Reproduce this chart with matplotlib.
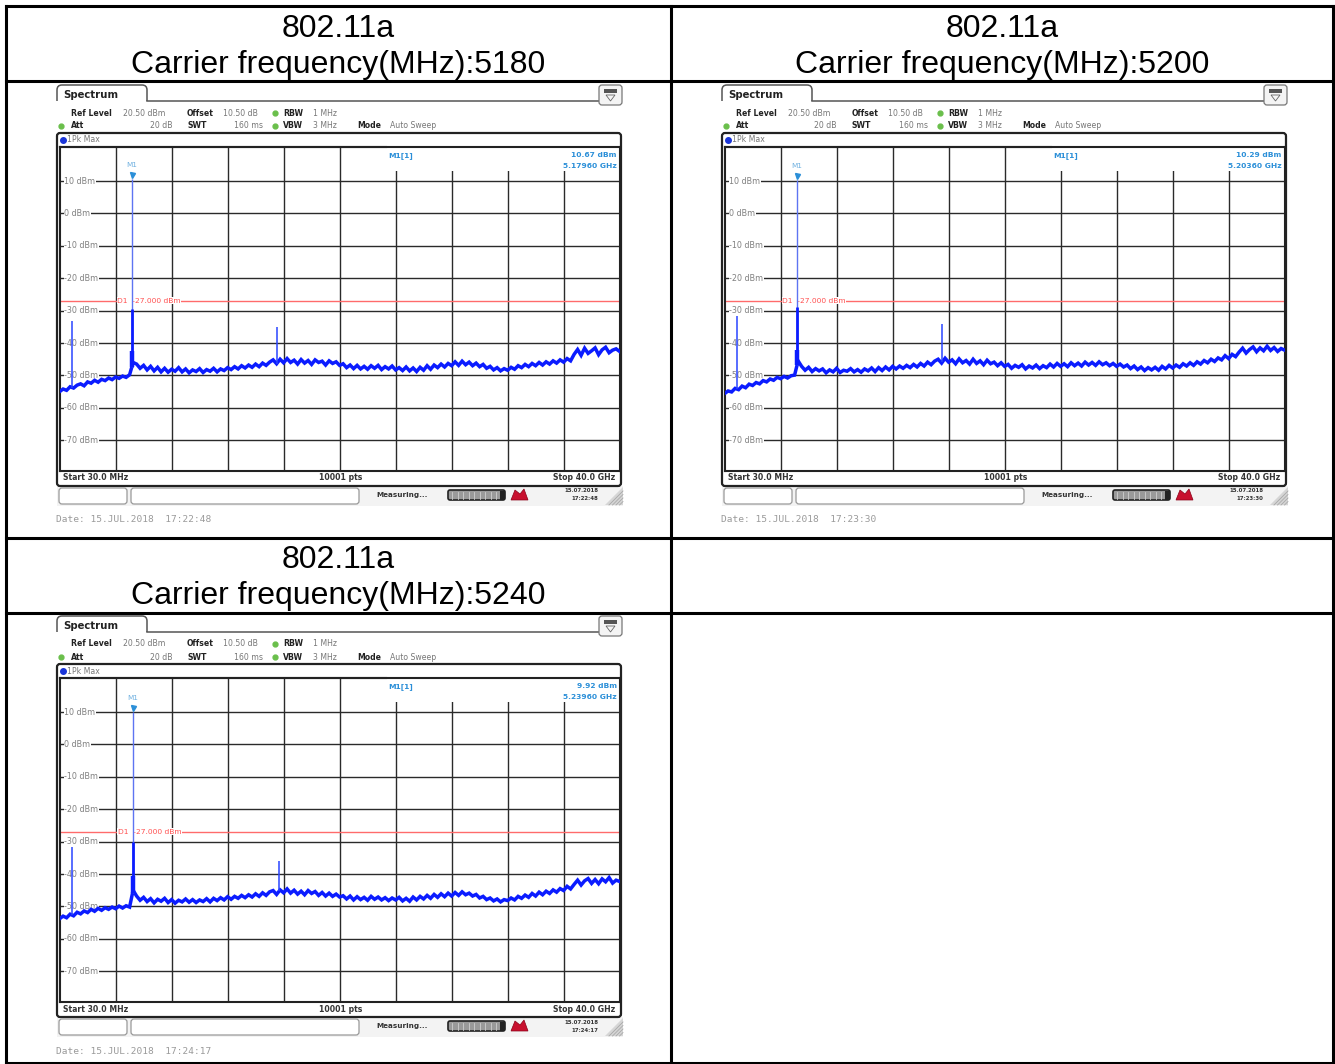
import numpy as np
import matplotlib
matplotlib.use('Agg')
import matplotlib.pyplot as plt
from matplotlib.patches import FancyBboxPatch, Rectangle, Polygon
import matplotlib.transforms as mtransforms

# ---------------- data ----------------
titles_std = ["802.11a", "802.11a", "802.11a"]
carrier_mhz = ["5180", "5200", "5240"]
start_ghz, stop_ghz = 0.03, 40.0
y_ticks = [10, 0, -10, -20, -30, -40, -50, -60, -70]
ref_level = 20.5
display_line = -27.0

marker_level = [10.67, 10.29, 9.92]          # dBm
marker_freq = [5.1796, 5.2036, 5.2396]       # GHz
carrier_body_top = [-29.5, -29.0, -30.0]     # dBm, top of the wide carrier body
carrier_bump_top = [-42.5, -42.0, -40.5]
spur_freq = [[0.94, 15.53], [0.94, 15.58], [0.94, 15.70]]
spur_level = [[-33.2, -35.0], [-31.7, -34.0], [-31.8, -36.0]]
sweep_time = ["17:22:48", "17:23:30", "17:24:17"]

trace1 = [-55.0, -54.2, -54.6, -53.5, -53.9, -53.0, -52.6, -53.2, -52.0, -52.4, -51.5, -52.1, -51.2, -51.6, -50.8, -51.3, -50.5, -50.9, -50.2, -50.6, -49.8,
          -46.0,
          -46.5, -47.8, -46.9, -48.3, -47.2, -48.6, -47.5, -48.9, -47.8, -49.0, -48.1, -48.7, -47.6, -48.9, -48.0, -49.2, -48.3, -48.8, -47.9, -49.1, -48.2, -48.7, -47.8, -48.9, -48.0, -48.5, -47.6,
          -48.2, -47.3, -48.0, -47.0, -47.7, -46.8, -47.5, -46.5, -47.3, -46.2, -46.9, -45.9,
          -45.2, -46.4, -45.0, -46.1, -44.8, -46.0, -45.3, -46.5, -45.1, -46.2, -45.4, -46.6, -45.2, -46.0, -45.6, -46.8, -45.5, -46.3, -45.8, -46.9,
          -46.4, -47.6, -46.8, -47.9, -46.9, -48.0, -47.2, -48.1, -47.0, -47.8, -46.9, -48.2, -47.3, -48.0, -47.1, -48.3,
          -47.6, -48.5, -47.4, -48.6, -47.7, -48.8, -47.5, -48.4, -47.0, -48.1, -46.8, -47.6, -46.5, -47.4, -46.3, -47.0,
          -45.8, -46.9, -45.6, -46.7, -45.9, -47.0, -46.2, -47.3, -46.6, -47.8, -47.2, -48.3, -47.6, -48.6, -47.9, -48.4,
          -47.5, -48.1, -47.0, -47.6, -46.6, -47.3, -46.3, -47.0, -46.0, -46.8, -45.8, -46.5, -45.5, -46.2, -45.2, -45.9, -44.8, -45.5,
          -43.5, -42.0, -43.8, -41.6, -43.2, -42.4, -41.5, -43.6, -42.1, -41.3, -43.0, -42.2, -41.8, -42.6]

trace2 = [-55.6, -54.8, -55.1, -54.0, -54.4, -53.3, -53.8, -52.7, -53.1, -52.2, -52.6, -51.6, -52.0, -51.1, -51.5, -50.6, -51.0, -50.3, -50.8, -50.1, -49.9,
          -45.5,
          -47.2, -48.4, -47.5, -48.8, -47.9, -48.6, -48.0, -49.2, -48.3, -48.9, -47.8, -49.1, -48.4, -48.7, -47.9, -48.9, -48.2, -49.0, -48.0, -48.6, -47.7, -48.8, -47.6, -48.5, -47.4, -48.3, -47.2,
          -48.0, -47.1, -47.8, -46.9, -47.6, -46.6, -47.4, -46.3, -47.1, -45.9, -46.7, -45.6,
          -45.0, -46.2, -44.7, -45.9, -45.2, -46.4, -44.9, -46.1, -45.4, -46.5, -45.0, -46.3, -45.5, -46.7, -45.3, -46.4, -45.9, -47.0, -46.1, -47.2,
          -46.6, -47.8, -46.9, -47.5, -46.7, -48.0, -47.1, -47.7, -46.8, -47.9, -47.0, -47.6, -46.5, -47.4, -46.3, -47.2,
          -46.4, -47.3, -46.1, -47.0, -46.2, -47.1, -45.9, -46.8, -46.0, -46.9, -45.8, -46.7, -46.1, -47.0, -46.3, -47.2,
          -46.5, -47.4, -46.8, -47.9, -47.1, -48.2, -47.4, -48.5, -47.6, -48.3, -47.5, -48.4, -47.2, -48.0, -46.9, -47.7,
          -46.8, -47.5, -46.4, -47.1, -46.1, -46.9, -45.8, -46.5, -45.4, -46.1, -45.0, -45.7, -44.6, -45.2, -43.9, -44.8, -43.5, -44.2,
          -42.8, -41.6, -43.1, -42.0, -41.2, -42.7, -41.5, -42.4, -41.0, -42.3, -41.4, -42.6, -41.7, -42.2]

trace3 = [-53.8, -53.0, -53.5, -52.4, -52.9, -51.8, -52.3, -51.4, -51.9, -50.9, -51.5, -50.6, -51.2, -50.4, -50.9, -50.2, -50.7, -49.9, -50.5, -49.8, -50.2,
          -45.0,
          -46.8, -48.1, -47.2, -48.5, -47.6, -48.9, -47.8, -48.4, -47.5, -48.8, -47.9, -49.0, -48.1, -48.6, -47.7, -48.7, -47.9, -48.8, -48.0, -48.5, -47.6, -48.6, -47.5, -48.2, -47.3, -48.0, -47.0,
          -47.8, -46.9, -47.5, -46.6, -47.3, -46.4, -47.1, -46.1, -46.9, -45.8, -46.6, -45.5,
          -45.1, -46.3, -44.9, -45.8, -44.6, -45.9, -45.0, -46.2, -45.3, -46.4, -45.1, -46.0, -45.4, -46.6, -45.7, -46.8, -45.9, -46.9, -46.2, -47.1,
          -46.7, -47.7, -46.8, -48.0, -47.0, -47.9, -47.2, -48.1, -46.9, -47.8, -47.1, -48.0, -47.3, -48.2, -47.4, -48.0,
          -47.2, -48.3, -47.5, -48.4, -47.1, -48.0, -46.9, -47.7, -46.6, -47.5, -46.3, -47.2, -46.1, -47.0, -45.9, -46.8,
          -45.7, -46.6, -45.5, -46.4, -45.9, -46.8, -46.3, -47.4, -46.9, -47.9, -47.4, -48.3, -47.7, -48.6, -47.9, -48.2,
          -47.4, -48.0, -46.9, -47.5, -46.5, -47.2, -46.0, -46.8, -45.6, -46.4, -45.3, -46.0, -44.9, -45.6, -44.5, -45.1, -43.8, -44.6,
          -43.2, -41.9, -43.4, -42.1, -41.4, -42.9, -41.7, -43.0, -41.5, -42.4, -41.1, -42.8, -41.9, -42.3]

traces = [trace1, trace2, trace3]

# ---------------- figure ----------------
W, H = 1335, 1064
fig = plt.figure(figsize=(W / 100, H / 100), dpi=100)
ov = fig.add_axes([0, 0, 1, 1])
ov.set_xlim(0, W)
ov.set_ylim(H, 0)
ov.axis('off')

SANS = 'DejaVu Sans'


def T(x, y, s, size=5.6, color='#333333', weight='normal', ha='left', va='center', family=SANS, zorder=5, **kw):
    ov.text(x, y, s, fontsize=size, color=color, fontweight=weight, ha=ha, va=va,
            family=family, zorder=zorder, **kw)


def rbox(x, y, w, h, r=3, ec='#555555', fc='white', lw=1.0, zorder=2):
    p = FancyBboxPatch((x, y), w, h, boxstyle=f"round,pad=0,rounding_size={r}",
                       ec=ec, fc=fc, lw=lw, zorder=zorder)
    ov.add_patch(p)


def dot(x, y, color, size=3.5):
    ov.plot([x], [y], 'o', ms=size, color=color, mec=color, zorder=6)


# table
lw_tab = 2.2
for yy in [6, 80.7, 537.7, 612.7, 1063]:
    ov.plot([6, 1333], [yy, yy], color='black', lw=lw_tab, solid_capstyle='projecting', zorder=10)
for xx in [6, 671, 1333]:
    ov.plot([xx, xx], [6, 1063], color='black', lw=lw_tab, solid_capstyle='projecting', zorder=10)

cells = [(338.5, 0), (1002.5, 0), (338.5, 531)]
for k, (cx, oy) in enumerate(cells):
    ov.text(cx, 29 + oy, titles_std[k], fontsize=23, family='Liberation Sans', ha='center', va='center')
    ov.text(cx, 65 + oy, "Carrier frequency(MHz):" + carrier_mhz[k], fontsize=23,
            family='Liberation Sans', ha='center', va='center')

offsets = [(0, 0), (665, 0), (0, 531)]
GL, GT, GW, GH = 59.6, 147.0, 560.0, 324.0
freqs = np.linspace(start_ghz, stop_ghz, len(trace1))
blue = '#0b1cff'
mblue = '#2b8fd8'

for k, (ox, oy) in enumerate(offsets):
    # --- header tab
    rbox(ox + 57, oy + 85, 90, 26, r=5, ec='#555555', lw=1.1, zorder=2)
    ov.add_patch(Rectangle((ox + 55, oy + 101), 94, 14, fc='white', ec='none', zorder=3))
    ov.plot([ox + 147, ox + 599], [oy + 101, oy + 101], color='#555555', lw=1.1, zorder=3)
    T(ox + 63, oy + 95, "Spectrum", size=7.3, color='#222222', weight='bold')
    # icon
    rbox(ox + 599, oy + 85, 23, 20, r=3, ec='#777777', fc='#f4f4f4', lw=0.9, zorder=3)
    ov.add_patch(Rectangle((ox + 604, oy + 89), 13, 4, fc='#555555', ec='none', zorder=4))
    ov.add_patch(Polygon([[ox + 606, oy + 95], [ox + 615, oy + 95], [ox + 610.5, oy + 101]],
                         closed=True, fc='none', ec='#666666', lw=0.6, zorder=4))
    # settings rows
    r1, r2 = oy + 113, oy + 126
    T(ox + 71, r1, "Ref Level", weight='bold', color='#222222')
    T(ox + 123, r1, "20.50 dBm", color='#777777')
    T(ox + 187, r1, "Offset", weight='bold', color='#222222')
    T(ox + 223, r1, "10.50 dB", color='#777777')
    dot(ox + 275, r1, '#6abf4b')
    T(ox + 283, r1, "RBW", weight='bold', color='#222222')
    T(ox + 313, r1, "1 MHz", color='#777777')
    dot(ox + 61, r2, '#6abf4b')
    T(ox + 71, r2, "Att", weight='bold', color='#222222')
    T(ox + 172, r2, "20 dB", color='#777777', ha='right')
    T(ox + 187, r2, "SWT", weight='bold', color='#222222')
    T(ox + 263, r2, "160 ms", color='#777777', ha='right')
    dot(ox + 275, r2, '#6abf4b')
    T(ox + 283, r2, "VBW", weight='bold', color='#222222')
    T(ox + 313, r2, "3 MHz", color='#777777')
    T(ox + 357, r2, "Mode", weight='bold', color='#222222')
    T(ox + 390, r2, "Auto Sweep", color='#777777')
    # main box
    rbox(ox + 57, oy + 133, 564, 353, r=3, ec='#222222', lw=1.6, zorder=2)
    dot(ox + 62.5, oy + 140, '#1a35d8', size=4)
    T(ox + 67, oy + 140, "1Pk Max", color='#777777')
    # start / stop row
    T(ox + 63, oy + 478, "Start 30.0 MHz", weight='bold', color='#333333')
    T(ox + 341, oy + 478, "10001 pts", weight='bold', color='#333333', ha='center')
    T(ox + 615, oy + 478, "Stop 40.0 GHz", weight='bold', color='#333333', ha='right')
    # status bar
    ov.add_patch(Rectangle((ox + 57, oy + 486), 566, 20, fc='#f3f3f3', ec='none', zorder=1))
    rbox(ox + 59, oy + 488, 68, 16, r=3, ec='#999999', fc='white', lw=0.9, zorder=2)
    rbox(ox + 131, oy + 488, 228, 16, r=3, ec='#999999', fc='white', lw=0.9, zorder=2)
    T(ox + 376, oy + 495, "Measuring...", size=5.2, weight='bold', color='#333333')
    rbox(ox + 448, oy + 490, 57, 10, r=2, ec='#222222', fc='#9a9a9a', lw=1.2, zorder=3)
    for j in range(9):
        ov.plot([ox + 452 + j * 5.5] * 2, [oy + 491.5, oy + 498.5], color='#cfcfcf', lw=0.6, zorder=4)
    ov.add_patch(Rectangle((ox + 500, oy + 490.5), 5, 9, fc='#222222', ec='none', zorder=4))
    ov.add_patch(Polygon([[ox + 511, oy + 500], [ox + 515, oy + 490], [ox + 520, oy + 494],
                          [ox + 524, oy + 489], [ox + 528, oy + 500]], closed=True,
                         fc='#c8102e', ec='#8a0018', lw=0.5, zorder=4))
    T(ox + 598, oy + 491, "15.07.2018", size=3.9, weight='bold', color='#333333', ha='right')
    T(ox + 598, oy + 499, sweep_time[k], size=3.9, weight='bold', color='#333333', ha='right')
    ov.add_patch(Polygon([[ox + 605, oy + 505], [ox + 623, oy + 505], [ox + 623, oy + 487]],
                         closed=True, fc='#d6d6d6', ec='none', zorder=3))
    for j in range(4):
        ov.plot([ox + 609 + j * 3.5, ox + 623], [oy + 505, oy + 491 + j * 3.5], color='#a8a8a8', lw=0.6, zorder=4)
    T(ox + 56, oy + 520, "Date: 15.JUL.2018  " + sweep_time[k], size=6.8,
      color='#9a9a9a', family='DejaVu Sans Mono')

    # --- measurement grid axes
    ax = fig.add_axes([(ox + GL) / W, 1 - (oy + GT + GH) / H, GW / W, GH / H])
    ax.set_facecolor('none')
    ax.set_xlim(start_ghz, stop_ghz)
    ax.set_ylim(ref_level - 100, ref_level)
    ax.set_xticks([])
    ax.set_yticks([])
    for s in ax.spines.values():
        s.set_color('#222222')
        s.set_linewidth(1.5)
    ax.set_zorder(3)
    span = (stop_ghz - start_ghz) / 10
    for j in range(1, 10):
        ax.axvline(start_ghz + j * span, color='#2a2a2a', lw=1.0, zorder=1)
    for yv in y_ticks:
        ax.axhline(yv, color='#2a2a2a', lw=1.0, zorder=1)
        ax.text(0.0085, yv, f"{yv} dBm", transform=mtransforms.blended_transform_factory(ax.transAxes, ax.transData),
                fontsize=5.8, color='#808080', va='center', ha='left', zorder=2,
                bbox=dict(fc='white', ec='none', pad=0.6))
    # marker info area
    ax.add_patch(Rectangle((0.5822, 0.9245), 0.42, 0.08, transform=ax.transAxes,
                           fc='white', ec='none', zorder=1.5))
    ax.plot([0.0, 0.5822], [1.0, 1.0], transform=ax.transAxes, color='#222222', lw=1.5, zorder=1.6, clip_on=False)
    ax.text(0.5875, 0.975, "M1[1]", transform=ax.transAxes, fontsize=5.4, color=mblue, weight='bold',
            va='center', ha='left', zorder=4)
    ax.text(0.995, 0.975, f"{marker_level[k]:.2f} dBm", transform=ax.transAxes, fontsize=5.4,
            color=mblue, weight='bold', va='center', ha='right', zorder=4)
    ax.text(0.995, 0.94, f"{marker_freq[k]:.5f} GHz", transform=ax.transAxes, fontsize=5.4,
            color=mblue, weight='bold', va='center', ha='right', zorder=4)
    # display line
    ax.axhline(display_line, color='#ff6b6b', lw=1.0, zorder=2.5)
    ax.text(marker_freq[k] - 1.05, display_line, f"D1  {display_line:.3f} dBm", fontsize=5.4,
            color='#ff5050', va='center', ha='left', zorder=2.6,
            bbox=dict(fc='white', ec='none', pad=0.3))
    # trace
    tr = traces[k]
    ax.plot(freqs, tr, color=blue, lw=2.5, zorder=3, solid_joinstyle='miter')
    base = float(np.interp(marker_freq[k], freqs, tr))
    ax.vlines(marker_freq[k], base, marker_level[k], color='#5d74f2', lw=1.0, zorder=3)
    ax.vlines(marker_freq[k], base, carrier_body_top[k], color=blue, lw=2.0, zorder=3)
    ax.vlines(marker_freq[k], base, carrier_bump_top[k], color=blue, lw=3.2, zorder=3)
    for sf, sl in zip(spur_freq[k], spur_level[k]):
        b = float(np.interp(sf, freqs, tr))
        ax.vlines(sf, b, sl, color='#2a45ff', lw=1.1, zorder=3)
    # marker symbol
    ax.plot([marker_freq[k]], [marker_level[k] + 1.2], 'v', ms=3.6, color=mblue, zorder=4)
    ax.text(marker_freq[k], marker_level[k] + 4.3, "M1", fontsize=5.2, color='#6fb0e0',
            ha='center', va='center', zorder=4)

fig.savefig('out.png', dpi=100)
